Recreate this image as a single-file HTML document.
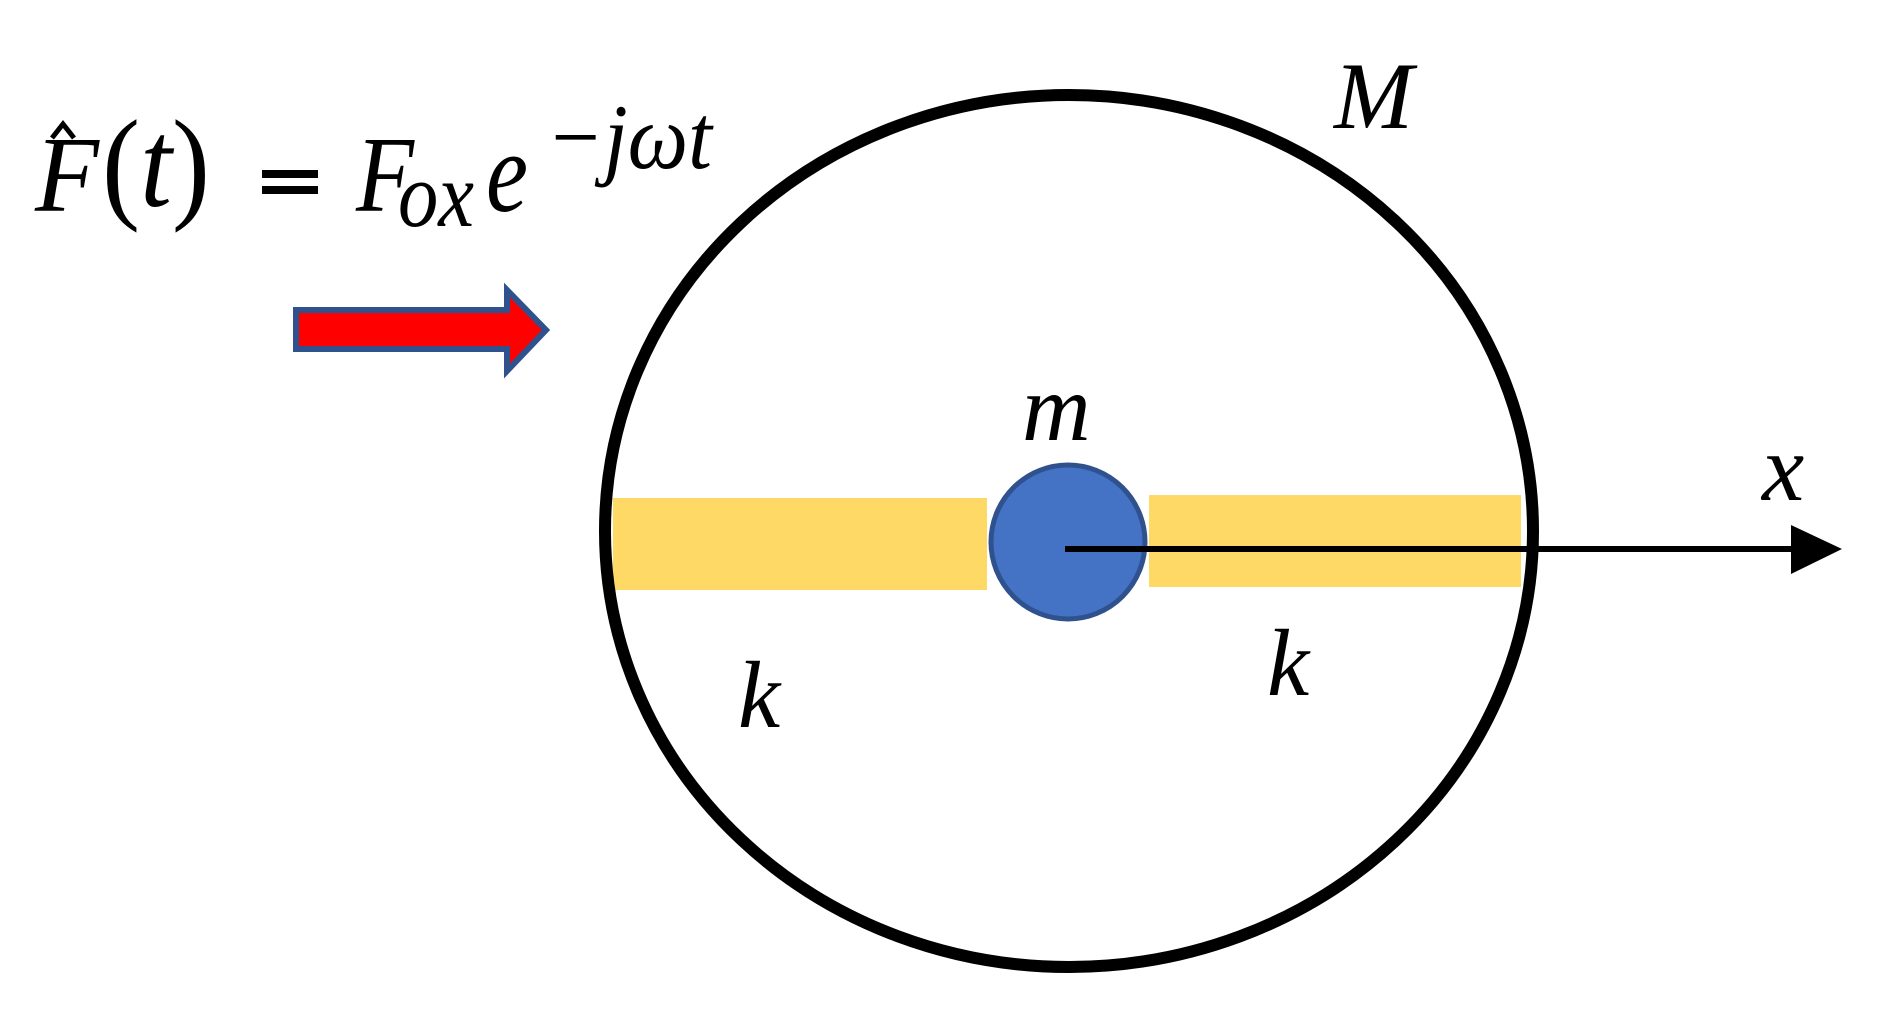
<!DOCTYPE html>
<html><head><meta charset="utf-8"><style>
html,body{margin:0;padding:0;background:#fff;}
svg{display:block;}
text{font-family:"Liberation Serif","DejaVu Serif",serif;font-style:italic;fill:#000;}
</style></head><body>
<svg width="1880" height="1015" viewBox="0 0 1880 1015" xmlns="http://www.w3.org/2000/svg">
<rect x="613" y="498" width="374" height="92" fill="#FFD966"/>
<rect x="1149" y="495" width="372" height="92" fill="#FFD966"/>
<ellipse cx="1069" cy="531" rx="464" ry="436" fill="none" stroke="#000" stroke-width="12"/>
<circle cx="1068" cy="542" r="77" fill="#4472C4" stroke="#2F528F" stroke-width="5"/>
<line x1="1065" y1="549" x2="1795" y2="549" stroke="#000" stroke-width="6"/>
<polygon points="1791,525 1842,549 1791,574" fill="#000"/>
<polygon points="296,310 507,310 507,290 546,330 507,371 507,349 296,349" fill="#FF0000" stroke="#2F528F" stroke-width="6"/>
<text x="35" y="211" font-size="108" textLength="64" lengthAdjust="spacingAndGlyphs">F</text>
<polyline points="52,138 63,124 74,138" fill="none" stroke="#000" stroke-width="5"/>
<text x="102" y="206" font-size="125" textLength="108" lengthAdjust="spacingAndGlyphs" style="font-style:normal">(<tspan style="font-style:italic">t</tspan>)</text>
<rect x="262" y="170" width="56" height="8" fill="#000"/>
<rect x="262" y="186" width="56" height="8" fill="#000"/>
<text x="356" y="211" font-size="108" textLength="58" lengthAdjust="spacingAndGlyphs">F</text>
<text x="398" y="226" font-size="92" textLength="76" lengthAdjust="spacingAndGlyphs">ox</text>
<text x="486" y="211" font-size="115" textLength="42" lengthAdjust="spacingAndGlyphs">e</text>
<text x="546" y="168" font-size="92" textLength="166" lengthAdjust="spacingAndGlyphs">−jωt</text>
<text x="1334" y="128" font-size="95">M</text>
<text x="1022" y="440" font-size="95">m</text>
<text x="1762" y="500" font-size="95">x</text>
<text x="738" y="727" font-size="95">k</text>
<text x="1267" y="695" font-size="95">k</text>
</svg>
</body></html>
